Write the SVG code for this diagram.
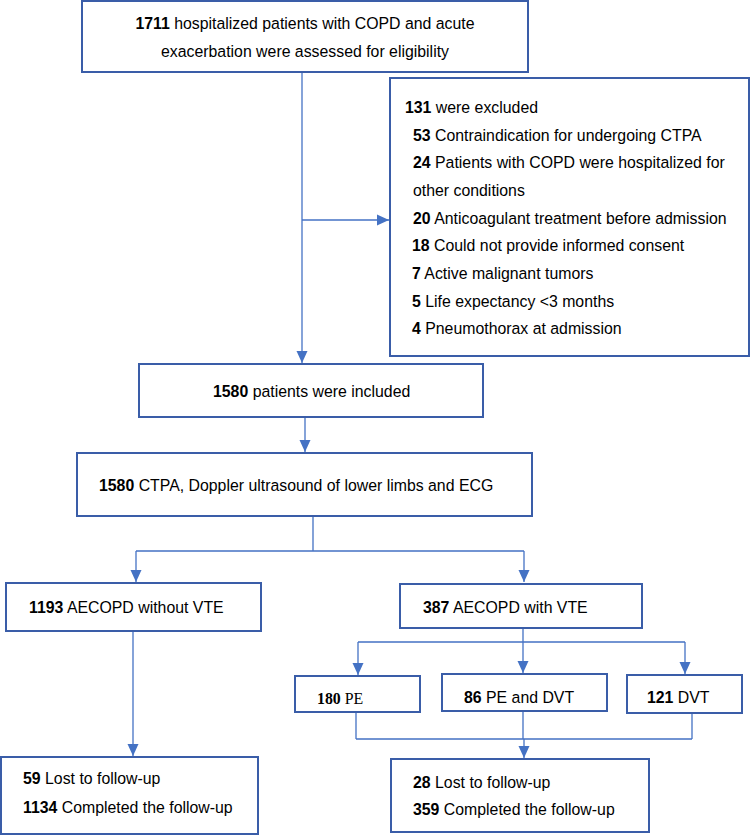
<svg xmlns="http://www.w3.org/2000/svg" width="751" height="835" viewBox="0 0 751 835">
<style>
.box{fill:#fff;stroke:#3A5DA8;stroke-width:2}
.t{font-family:"Liberation Sans",Arial,sans-serif;font-size:15.85px;fill:#000}
.tm{font-family:"Liberation Serif","Times New Roman",serif;font-size:15.85px;fill:#000}
.b{font-weight:bold}
.ln{fill:none;stroke:#4472C4;stroke-width:1.3}
</style>
<defs>
<marker id="ah" markerUnits="userSpaceOnUse" markerWidth="13" markerHeight="13" viewBox="0 0 13 13" refX="12" refY="6.5" orient="auto">
<path d="M0,1 L12,6.5 L0,12 Z" fill="#4472C4"/>
</marker>
</defs>
<rect width="751" height="835" fill="#fff"/>
<g id="connectors">
<path class="ln" d="M302 72 V363" marker-end="url(#ah)"/>
<path class="ln" d="M302 220 H389" marker-end="url(#ah)"/>
<path class="ln" d="M305 417 V452" marker-end="url(#ah)"/>
<path class="ln" d="M313 516 V551 M136 551 H524"/>
<path class="ln" d="M136 551 V582" marker-end="url(#ah)"/>
<path class="ln" d="M524 551 V582" marker-end="url(#ah)"/>
<path class="ln" d="M133 631 V756" marker-end="url(#ah)"/>
<path class="ln" d="M523 628 V642 M358 642 H685"/>
<path class="ln" d="M358 642 V675" marker-end="url(#ah)"/>
<path class="ln" d="M523 642 V673" marker-end="url(#ah)"/>
<path class="ln" d="M685 642 V674" marker-end="url(#ah)"/>
<path class="ln" d="M356 712 V739 M523 711 V739 M692 713 V739 M356 739 H692"/>
<path class="ln" d="M524 739 V758" marker-end="url(#ah)"/>
</g>
<g id="assessed">
<rect class="box" x="82" y="1" width="446" height="71"/>
<text class="t" x="305" y="29" text-anchor="middle"><tspan class="b">1711</tspan> hospitalized patients with COPD and acute</text>
<text class="t" x="305" y="57" text-anchor="middle">exacerbation were assessed for eligibility</text>
</g>
<g id="excluded">
<rect class="box" x="390" y="78" width="359" height="278"/>
<text class="t" x="405" y="112.6"><tspan class="b">131</tspan> were excluded</text>
<text class="t" x="413" y="140.6"><tspan class="b">53</tspan> Contraindication for undergoing CTPA</text>
<text class="t" x="413" y="167.6"><tspan class="b">24</tspan> Patients with COPD were hospitalized for</text>
<text class="t" x="413" y="195.6">other conditions</text>
<text class="t" x="413" y="223.6"><tspan class="b">20</tspan> Anticoagulant treatment before admission</text>
<text class="t" x="412" y="250.6"><tspan class="b">18</tspan> Could not provide informed consent</text>
<text class="t" x="412" y="278.6"><tspan class="b">7</tspan> Active malignant tumors</text>
<text class="t" x="412" y="306.6"><tspan class="b">5</tspan> Life expectancy &lt;3 months</text>
<text class="t" x="412" y="333.6"><tspan class="b">4</tspan> Pneumothorax at admission</text>
</g>
<g id="included">
<rect class="box" x="139" y="364" width="344" height="53"/>
<text class="t" x="213" y="397"><tspan class="b">1580</tspan> patients were included</text>
</g>
<g id="ctpa">
<rect class="box" x="77" y="453" width="455" height="63"/>
<text class="t" x="99" y="491"><tspan class="b">1580</tspan> CTPA, Doppler ultrasound of lower limbs and ECG</text>
</g>
<g id="novte">
<rect class="box" x="6" y="583" width="255" height="48"/>
<text class="t" x="29" y="613"><tspan class="b">1193</tspan> AECOPD without VTE</text>
</g>
<g id="vte">
<rect class="box" x="400" y="584" width="242" height="44"/>
<text class="t" x="423" y="613"><tspan class="b">387</tspan> AECOPD with VTE</text>
</g>
<g id="pe">
<rect class="box" x="295" y="676" width="125" height="36"/>
<text class="tm" x="317" y="704"><tspan class="b">180</tspan> PE</text>
</g>
<g id="pedvt">
<rect class="box" x="442" y="674" width="165" height="37"/>
<text class="t" x="464" y="703"><tspan class="b">86</tspan> PE and DVT</text>
</g>
<g id="dvt">
<rect class="box" x="627" y="675" width="115" height="38"/>
<text class="t" x="647" y="703"><tspan class="b">121</tspan> DVT</text>
</g>
<g id="followup-novte">
<rect class="box" x="1" y="757" width="257" height="77"/>
<text class="t" x="23" y="784"><tspan class="b">59</tspan> Lost to follow-up</text>
<text class="t" x="23" y="813"><tspan class="b">1134</tspan> Completed the follow-up</text>
</g>
<g id="followup-vte">
<rect class="box" x="391" y="759" width="258" height="73"/>
<text class="t" x="413" y="788"><tspan class="b">28</tspan> Lost to follow-up</text>
<text class="t" x="413" y="815"><tspan class="b">359</tspan> Completed the follow-up</text>
</g>
</svg>
